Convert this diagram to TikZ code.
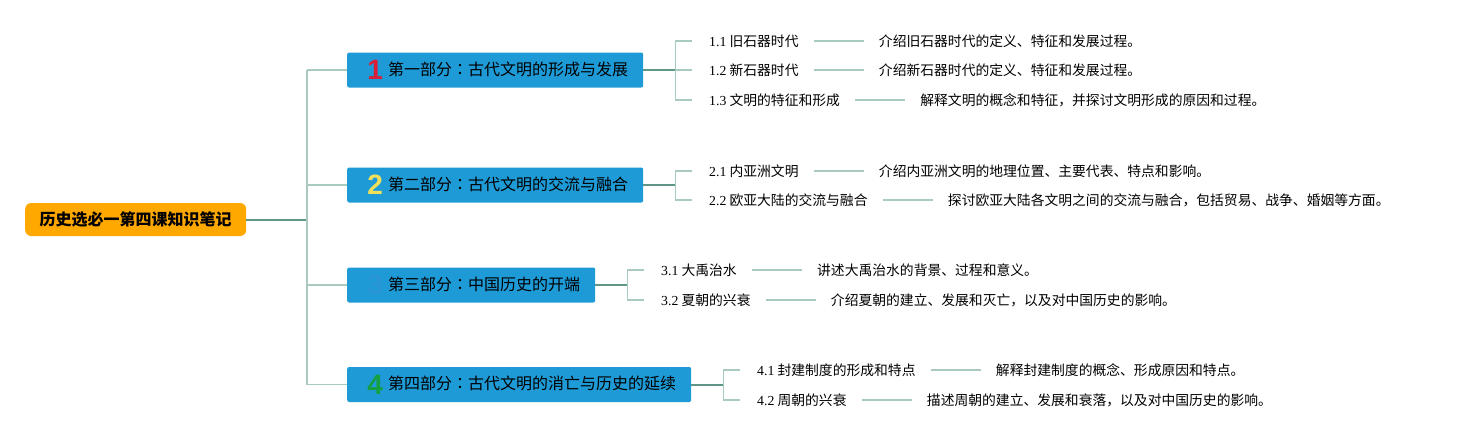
\documentclass[tikz,border=0pt]{standalone}
\usepackage{fontspec}
\setmainfont{Noto Sans CJK SC}
\newfontfamily\tcf{Noto Sans CJK TC}
\newfontfamily\latf{Liberation Serif}
\newfontfamily\digf{Liberation Sans}
\usetikzlibrary{positioning}
\definecolor{boxblue}{HTML}{1E9BD7}
\definecolor{rootorange}{HTML}{FFA800}
\definecolor{numred}{HTML}{D8203A}
\definecolor{numyellow}{HTML}{F0E05A}
\definecolor{numblue}{HTML}{2A96D6}
\definecolor{numgreen}{HTML}{14A040}
\definecolor{darkline}{HTML}{5F9687}
\definecolor{lightline}{HTML}{A8CAC0}
\newcommand{\partnum}[2]{\makebox[16pt][c]{\raisebox{-4.5pt}{\digf\bfseries\fontsize{28}{28}\selectfont\color{#1}#2}}}
\newcommand{\parttext}[4]{\makebox[#1][l]{\hspace{20pt}\partnum{#2}{#3}\hspace{5pt}#4}}
\newcommand{\pcolon}{{\tcf ：}}
\begin{document}
\begin{tikzpicture}[x=1pt,y=-1pt,
  rootbox/.style={fill=rootorange, rounded corners=6pt, minimum width=221pt, minimum height=33pt, inner sep=0pt, anchor=west, font=\fontsize{16}{16}\selectfont\bfseries},
  partbox/.style={fill=boxblue, rounded corners=2pt, minimum height=35pt, inner sep=0pt, anchor=west, text height=15pt, text depth=5pt, font=\fontsize{16}{16}\selectfont},
  leaf/.style={anchor=west, inner sep=0pt, font=\fontsize{13.8}{14}\selectfont, text height=11pt, text depth=1pt},
  darkl/.style={draw=darkline, line width=2pt},
  lightl/.style={draw=lightline, line width=1.8pt},
]
\useasboundingbox (0,0) rectangle (1458,440);

% root
\node[rootbox] (root) at (25,219.5) {历史选必一第四课知识笔记};

% parts
\node[partbox] (p1) at (347,70) {\parttext{296pt}{numred}{1}{第一部分\pcolon 古代文明的形成与发展}};
\node[partbox] (p2) at (347,185) {\parttext{296pt}{numyellow}{2}{第二部分\pcolon 古代文明的交流与融合}};
\node[partbox] (p3) at (347,285) {\parttext{248pt}{numblue}{3}{第三部分\pcolon 中国历史的开端}};
\node[partbox] (p4) at (347,384.5) {\parttext{344pt}{numgreen}{4}{第四部分\pcolon 古代文明的消亡与历史的延续}};

% trunk
\coordinate (trunk) at (307,219.5);
\draw[darkl] (root.east) -- (trunk);
\draw[lightl] (trunk |- p1.west) -- (trunk |- p4.west);
\foreach \p in {p1,p2,p3,p4} \draw[lightl] (trunk |- \p.west) -- (\p.west);

% leaves branch 1
\node[leaf] (l11) at (709,41) {{\latf 1.1} 旧石器时代};
\node[leaf] (l12) at (709,70) {{\latf 1.2} 新石器时代};
\node[leaf] (l13) at (709,100) {{\latf 1.3} 文明的特征和形成};
\node[leaf, right=80pt of l11] (d11) {介绍旧石器时代的定义、特征和发展过程。};
\node[leaf, right=80pt of l12] (d12) {介绍新石器时代的定义、特征和发展过程。};
\node[leaf, right=80pt of l13] (d13) {解释文明的概念和特征，并探讨文明形成的原因和过程。};

% leaves branch 2
\node[leaf] (l21) at (709,171) {{\latf 2.1} 内亚洲文明};
\node[leaf] (l22) at (709,200) {{\latf 2.2} 欧亚大陆的交流与融合};
\node[leaf, right=80pt of l21] (d21) {介绍内亚洲文明的地理位置、主要代表、特点和影响。};
\node[leaf, right=80pt of l22] (d22) {探讨欧亚大陆各文明之间的交流与融合，包括贸易、战争、婚姻等方面。};

% leaves branch 3
\node[leaf] (l31) at (661,270) {{\latf 3.1} 大禹治水};
\node[leaf] (l32) at (661,300) {{\latf 3.2} 夏朝的兴衰};
\node[leaf, right=80pt of l31] (d31) {讲述大禹治水的背景、过程和意义。};
\node[leaf, right=80pt of l32] (d32) {介绍夏朝的建立、发展和灭亡，以及对中国历史的影响。};

% leaves branch 4
\node[leaf] (l41) at (757,370) {{\latf 4.1} 封建制度的形成和特点};
\node[leaf] (l42) at (757,400) {{\latf 4.2} 周朝的兴衰};
\node[leaf, right=80pt of l41] (d41) {解释封建制度的概念、形成原因和特点。};
\node[leaf, right=80pt of l42] (d42) {描述周朝的建立、发展和衰落，以及对中国历史的影响。};

% branch connectors
\draw[darkl] (p1.east) -- ++(32,0) coordinate (j1);
\draw[lightl] (j1 |- l11.west) -- (j1 |- l13.west);
\foreach \l in {l11,l12,l13} \draw[lightl] (j1 |- \l.west) -- ([xshift=-17pt]\l.west);

\draw[darkl] (p2.east) -- ++(32,0) coordinate (j2);
\draw[lightl] (j2 |- l21.west) -- (j2 |- l22.west);
\foreach \l in {l21,l22} \draw[lightl] (j2 |- \l.west) -- ([xshift=-17pt]\l.west);

\draw[darkl] (p3.east) -- ++(32,0) coordinate (j3);
\draw[lightl] (j3 |- l31.west) -- (j3 |- l32.west);
\foreach \l in {l31,l32} \draw[lightl] (j3 |- \l.west) -- ([xshift=-17pt]\l.west);

\draw[darkl] (p4.east) -- ++(32,0) coordinate (j4);
\draw[lightl] (j4 |- l41.west) -- (j4 |- l42.west);
\foreach \l in {l41,l42} \draw[lightl] (j4 |- \l.west) -- ([xshift=-17pt]\l.west);

% leaf to description
\foreach \a/\b in {l11/d11,l12/d12,l13/d13,l21/d21,l22/d22,l31/d31,l32/d32,l41/d41,l42/d42}
  \draw[lightl] ([xshift=15pt]\a.east) -- ([xshift=-15pt]\b.west);
\end{tikzpicture}
\end{document}
